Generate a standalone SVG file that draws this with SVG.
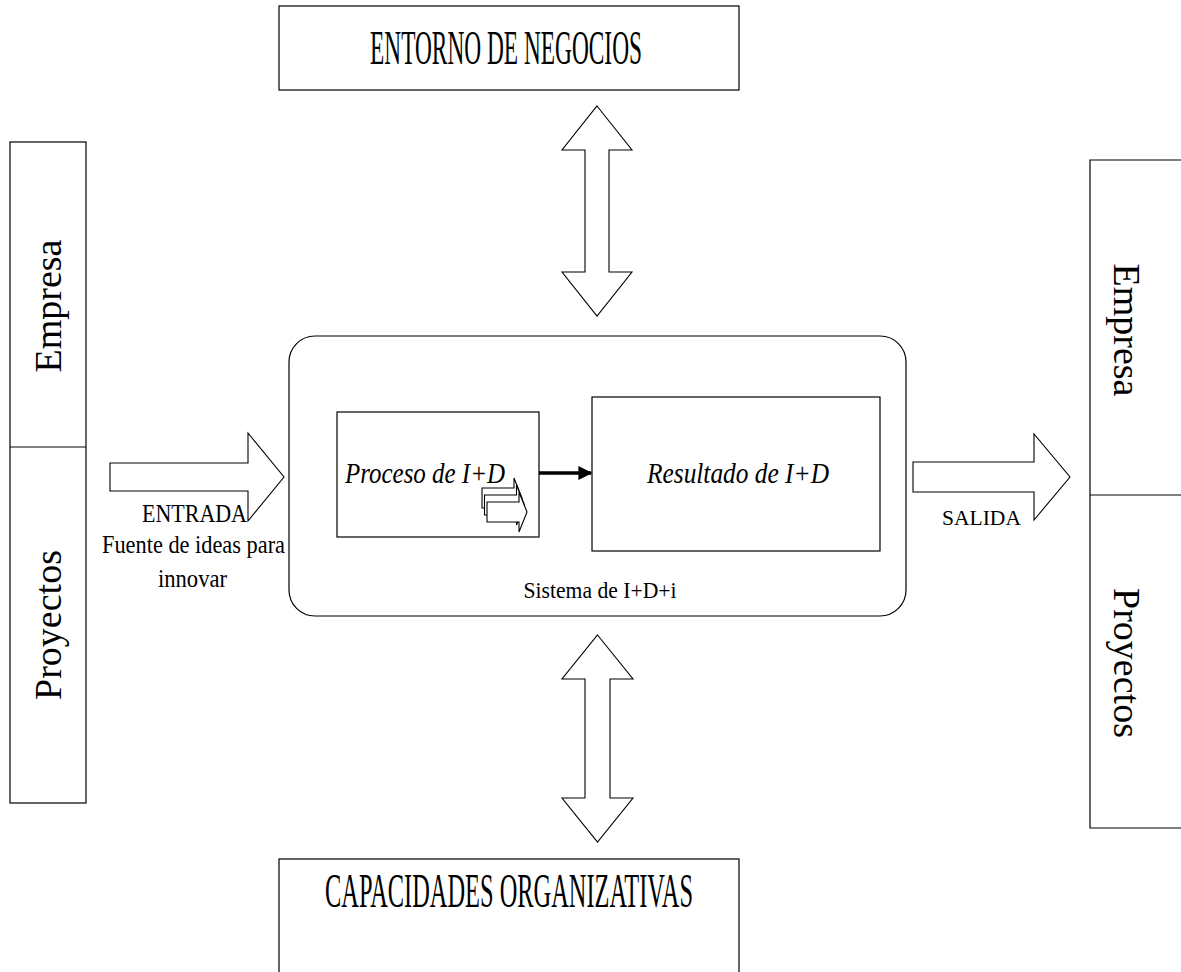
<svg xmlns="http://www.w3.org/2000/svg" width="1181" height="972" viewBox="0 0 1181 972">
<style>
.box{fill:#fff;stroke:#000;stroke-width:1.2}
.ln{fill:none;stroke:#000;stroke-width:1.2}
.big{fill:#fff;stroke:#000;stroke-width:1.1}
.t{font-family:"Liberation Serif","Times New Roman",serif;fill:#000}
.title{font-size:48px}
.side{font-size:38px}
.lbl{font-size:25px}
.it{font-size:29px;font-style:italic}
</style>
<defs>
<marker id="ah" viewBox="0 0 10 10" refX="9" refY="5" markerWidth="4" markerHeight="4" orient="auto" markerUnits="strokeWidth">
<path d="M0,0 L10,5 L0,10 Z" fill="#000"/>
</marker>
</defs>
<rect width="1181" height="972" fill="#fff"/>

<g id="entorno">
<rect class="box" x="279" y="6" width="460" height="84"/>
<text class="t title" x="506" y="64" text-anchor="middle" textLength="272" lengthAdjust="spacingAndGlyphs">ENTORNO DE NEGOCIOS</text>
</g>

<g id="capacidades">
<rect class="box" x="279" y="859" width="460" height="130"/>
<text class="t title" x="509" y="907" text-anchor="middle" textLength="368" lengthAdjust="spacingAndGlyphs">CAPACIDADES ORGANIZATIVAS</text>
</g>

<g id="entrada-bloque">
<rect class="box" x="10" y="142" width="76" height="661"/>
<line class="ln" x1="10" y1="447" x2="86" y2="447"/>
<text class="t side" transform="translate(61,306) rotate(-90)" text-anchor="middle">Empresa</text>
<text class="t side" transform="translate(61,625) rotate(-90)" text-anchor="middle">Proyectos</text>
</g>

<g id="salida-bloque">
<path class="ln" d="M1185,160 H1090 V828 H1185"/>
<line class="ln" x1="1090" y1="495" x2="1181" y2="495"/>
<text class="t side" transform="translate(1114,330) rotate(90)" text-anchor="middle">Empresa</text>
<text class="t side" transform="translate(1114,663) rotate(90)" text-anchor="middle">Proyectos</text>
</g>

<g id="sistema">
<rect class="box" x="289" y="336" width="617" height="280" rx="26" ry="26"/>
<text class="t" x="600" y="598" font-size="23" text-anchor="middle" textLength="153" lengthAdjust="spacingAndGlyphs">Sistema de I+D+i</text>
</g>

<g id="proceso">
<rect class="box" x="337" y="412" width="202" height="125"/>
<text class="t it" x="345" y="483" textLength="160" lengthAdjust="spacingAndGlyphs">Proceso de I+D</text>
<path class="big" d="M482,488 H514 V478 L522,498 L514,518 V508 H482 Z"/>
<path class="big" d="M484.5,495 H516.5 V485 L524.5,505 L516.5,525 V515 H484.5 Z"/>
<path class="big" d="M487,502 H519 V492 L527,512 L519,532 V522 H487 Z"/>
</g>

<g id="resultado">
<rect class="box" x="592" y="397" width="288" height="154"/>
<text class="t it" x="738" y="483" text-anchor="middle" textLength="182" lengthAdjust="spacingAndGlyphs">Resultado de I+D</text>
</g>

<g id="conectores">
<line x1="539" y1="473" x2="591" y2="473" stroke="#000" stroke-width="3.5" marker-end="url(#ah)"/>
<path class="big" d="M110,463 H248 V433 L284,477 L248,521 V491 H110 Z"/>
<path class="big" d="M913,462 H1034 V434 L1070,477 L1034,520 V492 H913 Z"/>
<path class="big" d="M597,106 L632,150 H609 V272 H632 L597,316 L562,272 H585 V150 H562 Z"/>
<path class="big" d="M597.5,635 L633,679 H610 V798 H633 L597.5,842 L562,798 H585 V679 H562 Z"/>
</g>

<g id="etiquetas">
<text class="t lbl" x="194.5" y="522" text-anchor="middle" textLength="105" lengthAdjust="spacingAndGlyphs">ENTRADA</text>
<text class="t lbl" x="193.5" y="553" text-anchor="middle" textLength="183" lengthAdjust="spacingAndGlyphs">Fuente de ideas para</text>
<text class="t lbl" x="192.5" y="587" text-anchor="middle" textLength="69" lengthAdjust="spacingAndGlyphs">innovar</text>
<text class="t" x="981.5" y="525" font-size="22" text-anchor="middle" textLength="79" lengthAdjust="spacingAndGlyphs">SALIDA</text>
</g>
</svg>
